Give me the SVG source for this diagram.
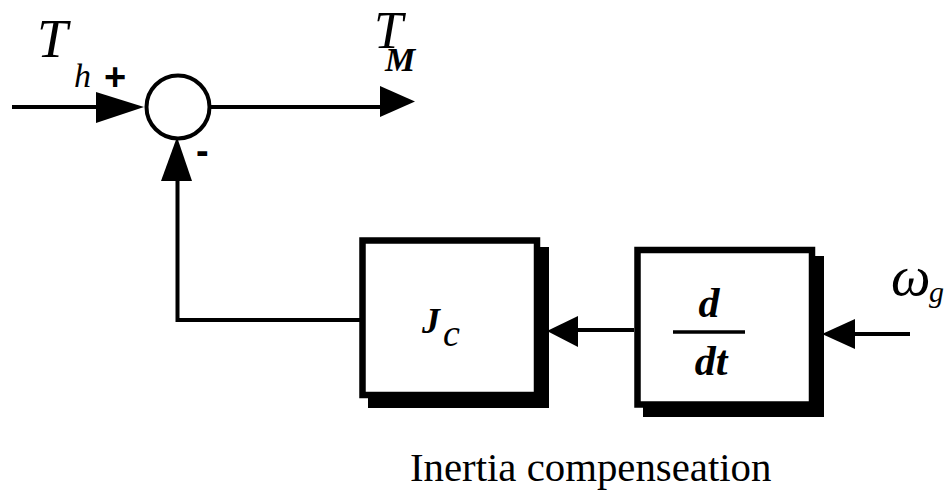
<svg xmlns="http://www.w3.org/2000/svg" width="944" height="490" viewBox="0 0 944 490">
<style>
.ln{fill:none;stroke:#000;stroke-width:4}
.ah{fill:#000;stroke:none}
.box{fill:#fff;stroke:#000;stroke-width:6.5}
.sh{fill:#000}
.it{font-family:"Liberation Serif","Times New Roman",serif;font-style:italic;fill:#000}
.bi{font-family:"Liberation Serif","Times New Roman",serif;font-style:italic;font-weight:bold;fill:#000}
.sg{font-family:"Liberation Sans",Arial,sans-serif;font-weight:bold;fill:#000}
.rm{font-family:"Liberation Serif","Times New Roman",serif;fill:#000}
</style>
<rect width="944" height="490" fill="#fff"/>
<g id="connectors">
<path class="ln" d="M12 107 H100"/>
<polygon class="ah" points="96,92 144,107 96,123"/>
<path class="ln" d="M210 107 H384"/>
<polygon class="ah" points="380,86 415,101.5 380,117"/>
<path class="ln" d="M360 320 H177.5 V178"/>
<polygon class="ah" points="161,181 177,137 192,181"/>
<path class="ln" d="M634 330 H575"/>
<polygon class="ah" points="578,316 547,331 578,347"/>
<path class="ln" d="M910 334 H852"/>
<polygon class="ah" points="855,319 822,334 855,349"/>
</g>
<g id="sum">
<circle cx="178" cy="107" r="31.5" fill="#fff" stroke="#000" stroke-width="4"/>
<text class="sg" x="104" y="90" font-size="38">+</text>
<text class="sg" x="196" y="164" font-size="38">-</text>
</g>
<g id="Th">
<text class="it" x="37" y="57" font-size="55">T</text>
<text class="it" x="74" y="87" font-size="34">h</text>
</g>
<g id="TM">
<text class="it" x="374" y="48" font-size="52">T</text>
<text class="bi" x="385" y="71" font-size="34">M</text>
</g>
<g id="Jc">
<rect class="sh" x="368" y="247" width="181" height="161"/>
<rect class="box" x="362.5" y="240.5" width="174.5" height="154.5"/>
<text class="bi" x="422" y="333" font-size="36">J</text>
<text class="it" x="443" y="346" font-size="38">c</text>
</g>
<g id="ddt">
<rect class="sh" x="643" y="256" width="181" height="161"/>
<rect class="box" x="637.5" y="250" width="174.5" height="154.5"/>
<text class="bi" x="709" y="317" font-size="42" text-anchor="middle">d</text>
<line x1="673" y1="332" x2="745" y2="332" stroke="#000" stroke-width="3.5"/>
<text class="bi" x="711" y="375" font-size="42" text-anchor="middle">dt</text>
</g>
<g id="omega">
<text class="it" x="891" y="295" font-size="56">ω</text>
<text class="it" x="929" y="302" font-size="30">g</text>
</g>
<g id="caption">
<text class="rm" x="410" y="481" font-size="40.8">Inertia compenseation</text>
</g>
</svg>
